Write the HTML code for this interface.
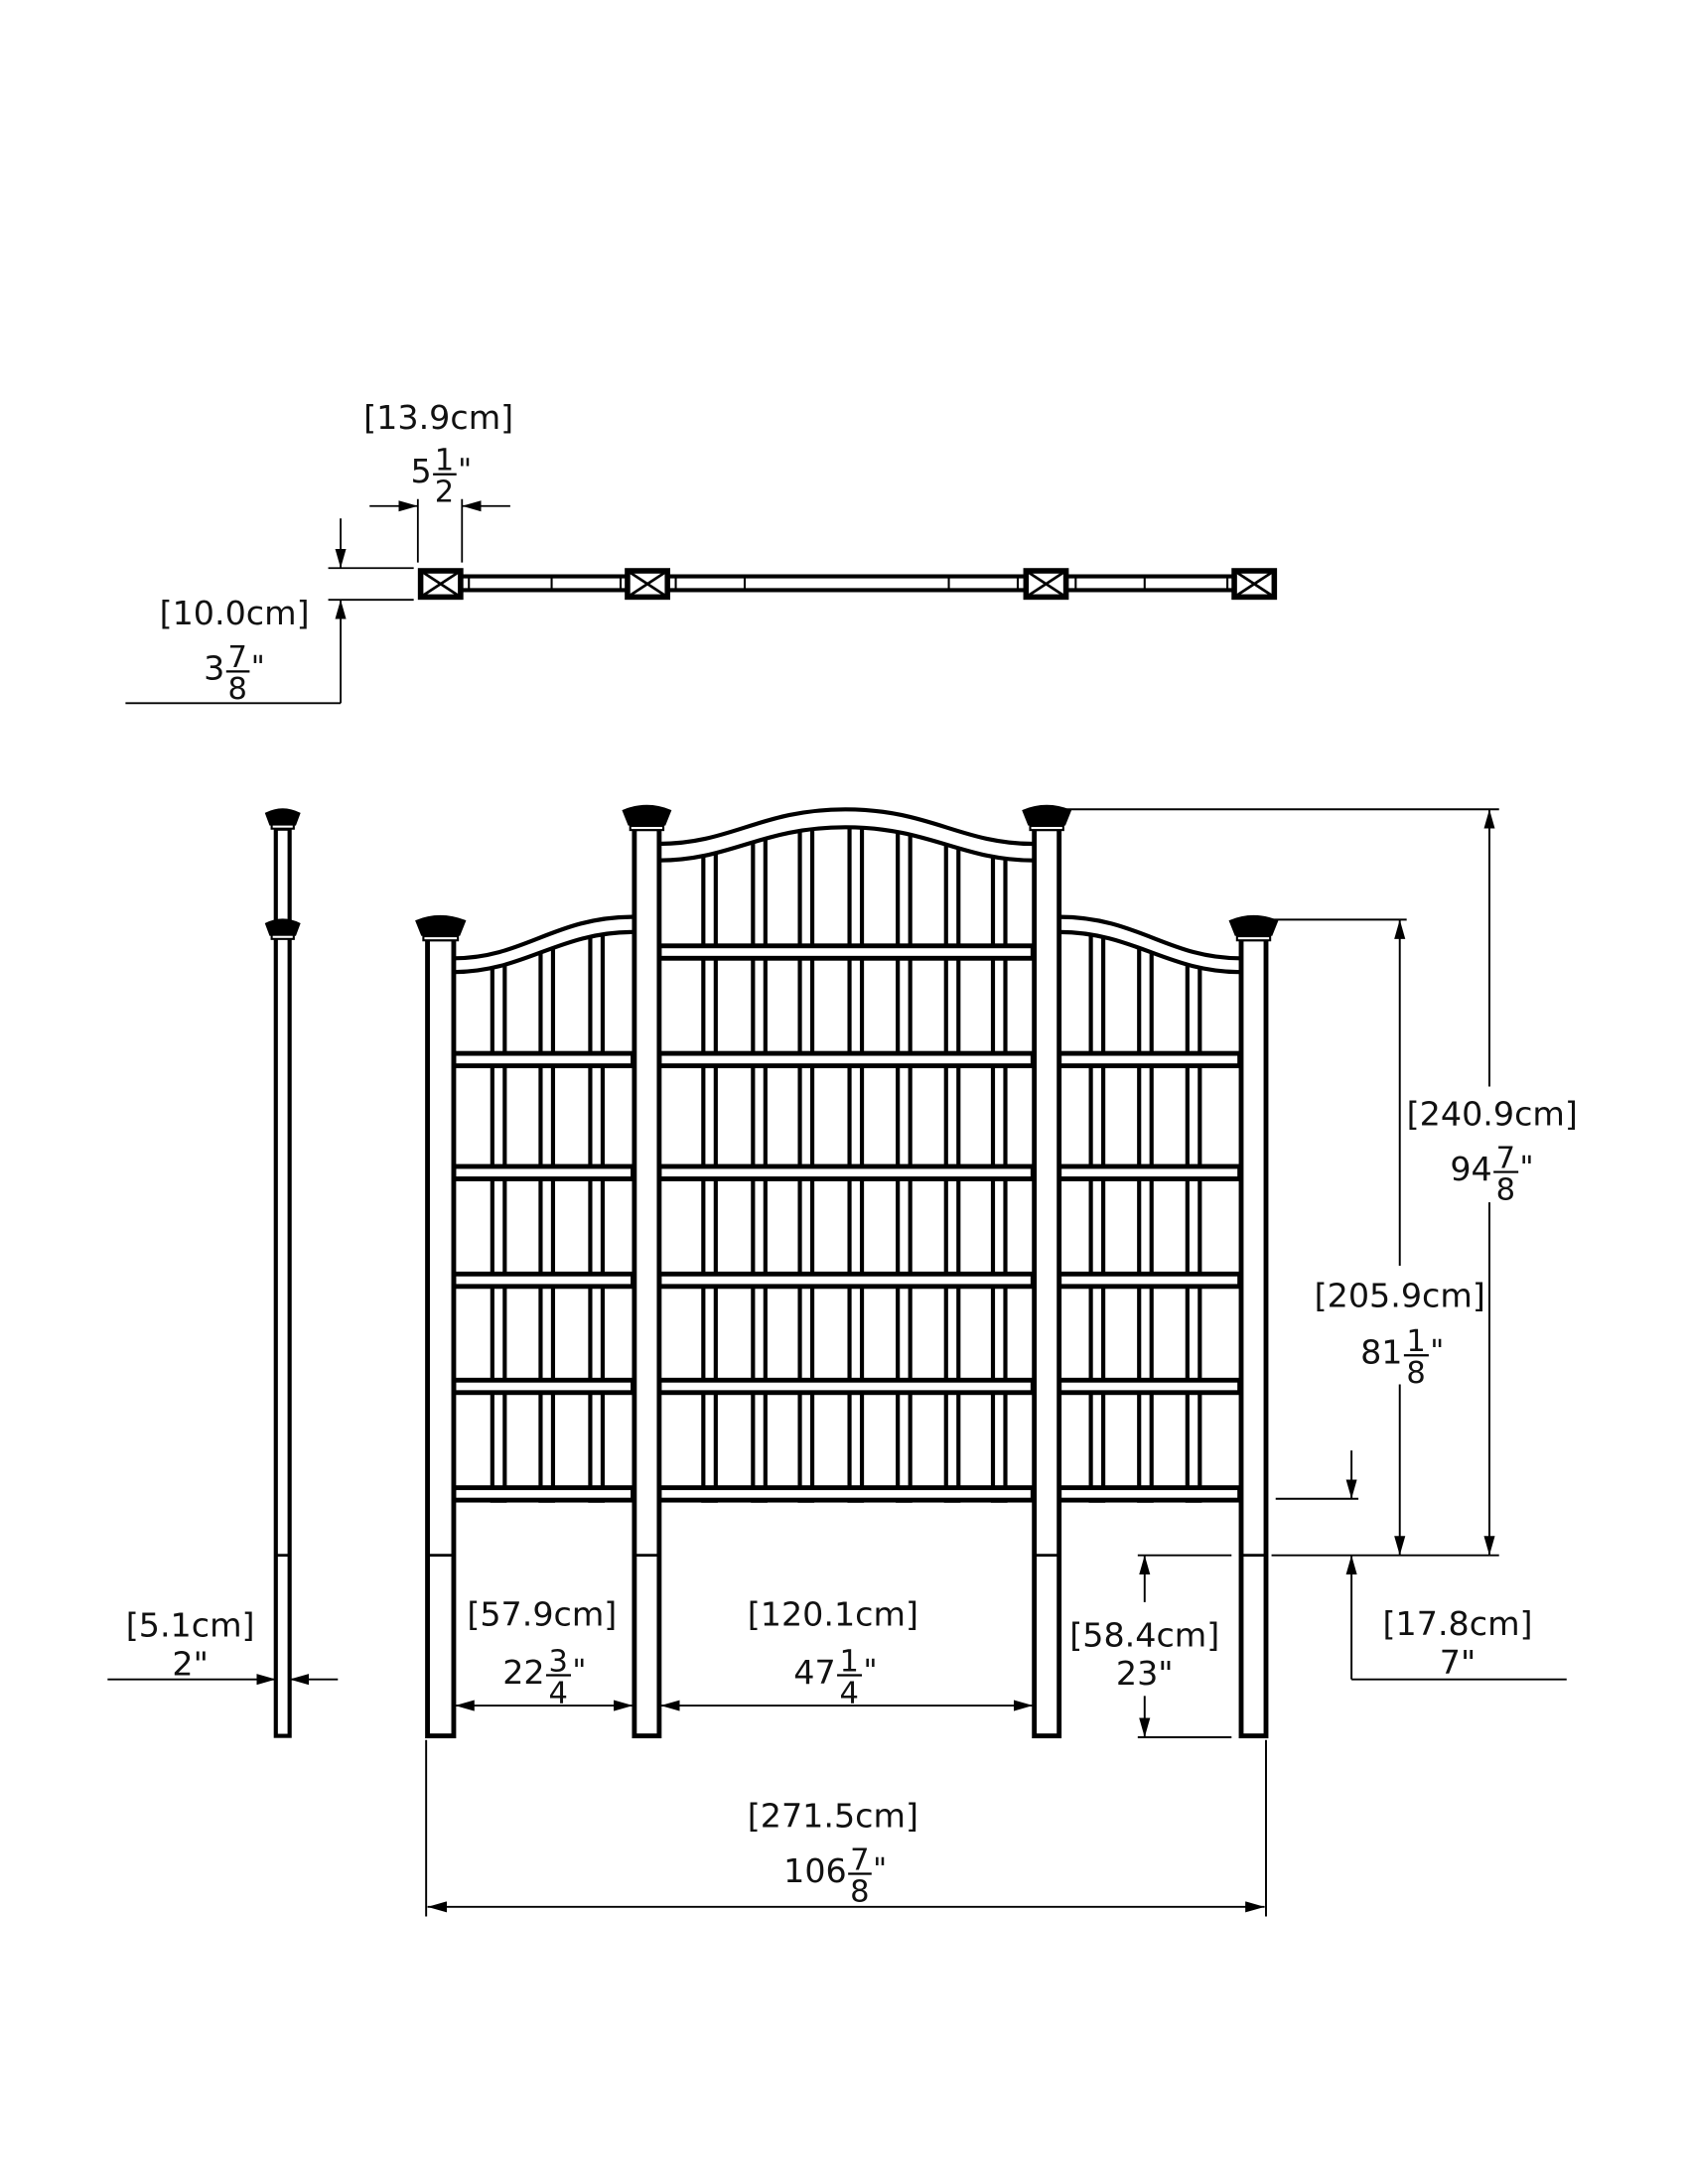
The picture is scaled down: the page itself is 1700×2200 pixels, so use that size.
<!DOCTYPE html>
<html><head><meta charset="utf-8"><style>
html,body{margin:0;padding:0;background:#fff;}
svg{display:block}
text{font-family:"DejaVu Sans","Liberation Sans",sans-serif;fill:#111;}
</style></head><body>
<svg width="1700" height="2200" viewBox="0 0 1224 1584" xmlns="http://www.w3.org/2000/svg">
<defs>
<marker id="ar" viewBox="0 0 14 8" refX="14" refY="4" markerWidth="14" markerHeight="8" markerUnits="userSpaceOnUse" orient="auto-start-reverse">
<path d="M0,0 L14,4 L0,8 Z" fill="#000"/></marker>
<clipPath id="cl"><path d="M329,705 C380,705 405,676 459,676 L459,1090 L329,1090 Z"/></clipPath>
<clipPath id="cc"><path d="M478,624 C530,624 552,600 613,600 C674,600 697,624 749,624 L749,1090 L478,1090 Z"/></clipPath>
<clipPath id="cr"><path d="M768,676 C822,676 847,705 899,705 L899,1090 L768,1090 Z"/></clipPath>
</defs>
<rect width="1224" height="1584" fill="#fff"/>

<!-- TOP VIEW -->
<g stroke="#000" fill="none">
<line x1="335" y1="418" x2="455" y2="418" stroke-width="3"/><line x1="335" y1="428" x2="455" y2="428" stroke-width="3"/>
<line x1="485" y1="418" x2="744" y2="418" stroke-width="3"/><line x1="485" y1="428" x2="744" y2="428" stroke-width="3"/>
<line x1="774" y1="418" x2="895" y2="418" stroke-width="3"/><line x1="774" y1="428" x2="895" y2="428" stroke-width="3"/>
<g stroke-width="1.5"><line x1="340" y1="418" x2="340" y2="428"/><line x1="400" y1="418" x2="400" y2="428"/><line x1="450" y1="418" x2="450" y2="428"/>
<line x1="490" y1="418" x2="490" y2="428"/><line x1="540" y1="418" x2="540" y2="428"/><line x1="688" y1="418" x2="688" y2="428"/><line x1="738" y1="418" x2="738" y2="428"/>
<line x1="780" y1="418" x2="780" y2="428"/><line x1="830" y1="418" x2="830" y2="428"/><line x1="890" y1="418" x2="890" y2="428"/></g>
<g stroke-width="4" fill="#fff">
<rect x="305" y="414" width="29" height="19"/><rect x="455" y="414" width="29" height="19"/>
<rect x="744" y="414" width="29" height="19"/><rect x="895" y="414" width="29" height="19"/></g>
<g stroke-width="2">
<path d="M305,414 L334,433 M334,414 L305,433"/><path d="M455,414 L484,433 M484,414 L455,433"/>
<path d="M744,414 L773,433 M773,414 L744,433"/><path d="M895,414 L924,433 M924,414 L895,433"/></g>
<g stroke-width="1.3">
<line x1="303" y1="362" x2="303" y2="408"/><line x1="335" y1="362" x2="335" y2="408"/>
<line x1="268" y1="367" x2="303" y2="367" marker-end="url(#ar)"/><line x1="370" y1="367" x2="335" y2="367" marker-end="url(#ar)"/>
<line x1="238" y1="412" x2="300" y2="412"/><line x1="238" y1="435" x2="300" y2="435"/>
<line x1="247" y1="376" x2="247" y2="412" marker-end="url(#ar)"/><line x1="247" y1="510" x2="247" y2="435" marker-end="url(#ar)"/>
<line x1="91" y1="510" x2="247" y2="510"/>
</g></g>
<text x="318" y="311" font-size="24" text-anchor="middle">[13.9cm]</text>
<text x="313" y="350" font-size="24" text-anchor="end">5</text>
<text x="322.2" y="341" font-size="22" text-anchor="middle">1</text><line x1="314" y1="344" x2="331" y2="344" stroke="#000" stroke-width="1.6"/>
<text x="322.2" y="364" font-size="22" text-anchor="middle">2</text><text x="332" y="348" font-size="22">"</text>
<text x="170" y="453" font-size="24" text-anchor="middle">[10.0cm]</text>
<text x="163" y="493" font-size="24" text-anchor="end">3</text>
<text x="172.2" y="484" font-size="22" text-anchor="middle">7</text><line x1="164" y1="487" x2="181" y2="487" stroke="#000" stroke-width="1.6"/>
<text x="172.2" y="507" font-size="22" text-anchor="middle">8</text><text x="182" y="491" font-size="22">"</text>

<!-- FRONT VIEW pickets -->
<g stroke="#000" stroke-width="3" fill="#fff">
<g clip-path="url(#cl)"><rect x="357" y="650" width="9" height="440"/><rect x="392" y="650" width="9" height="440"/><rect x="428" y="650" width="9" height="440"/></g>
<g clip-path="url(#cc)"><rect x="510" y="580" width="9" height="510"/><rect x="546" y="580" width="9" height="510"/><rect x="580" y="580" width="9" height="510"/><rect x="616" y="580" width="9" height="510"/><rect x="651" y="580" width="9" height="510"/><rect x="686" y="580" width="9" height="510"/><rect x="720" y="580" width="9" height="510"/></g>
<g clip-path="url(#cr)"><rect x="791" y="650" width="9" height="440"/><rect x="826" y="650" width="9" height="440"/><rect x="861" y="650" width="9" height="440"/></g>
<g stroke-width="3.5">
<rect x="478" y="686" width="271" height="9"/>
<rect x="329" y="764" width="130" height="9"/><rect x="478" y="764" width="271" height="9"/><rect x="768" y="764" width="131" height="9"/>
<rect x="329" y="846" width="130" height="9"/><rect x="478" y="846" width="271" height="9"/><rect x="768" y="846" width="131" height="9"/>
<rect x="329" y="924" width="130" height="9"/><rect x="478" y="924" width="271" height="9"/><rect x="768" y="924" width="131" height="9"/>
<rect x="329" y="1001" width="130" height="9"/><rect x="478" y="1001" width="271" height="9"/><rect x="768" y="1001" width="131" height="9"/>
<rect x="329" y="1079" width="130" height="9"/><rect x="478" y="1079" width="271" height="9"/><rect x="768" y="1079" width="131" height="9"/>
</g></g>
<g stroke="#000" stroke-width="3" fill="none">
<path d="M329,695 C380,695 402,665 459,665"/><path d="M329,705 C380,705 405,676 459,676"/>
<path d="M478,612 C530,612 552,587 613,587 C674,587 697,612 749,612"/>
<path d="M478,624 C530,624 552,600 613,600 C674,600 697,624 749,624"/>
<path d="M768,665 C825,665 847,695 899,695"/><path d="M768,676 C822,676 847,705 899,705"/>
</g>
<g stroke="#000" stroke-width="3.5" fill="#fff">
<rect x="310" y="681" width="19" height="578"/><rect x="460" y="601" width="18" height="658"/>
<rect x="750" y="601" width="18" height="658"/><rect x="900" y="681" width="18" height="578"/>
<rect x="200" y="601" width="10" height="658" stroke-width="3"/>
</g>
<g stroke="#000" stroke-width="2">
<line x1="310" y1="1128" x2="329" y2="1128"/><line x1="460" y1="1128" x2="478" y2="1128"/>
<line x1="750" y1="1128" x2="768" y2="1128"/><line x1="900" y1="1128" x2="918" y2="1128"/>
<line x1="200" y1="1128" x2="210" y2="1128"/>
</g>
<g fill="#000" stroke="#000" stroke-width="1.5">
<path d="M302,668 Q319,661 337,668 L333,678 L306,678 Z"/><rect x="307" y="679" width="25" height="3" fill="#fff"/>
<path d="M452,588 Q469,581 486,588 L482,598 L456,598 Z"/><rect x="457" y="599" width="24" height="3" fill="#fff"/>
<path d="M742,588 Q759,581 776,588 L772,598 L746,598 Z"/><rect x="747" y="599" width="24" height="3" fill="#fff"/>
<path d="M892,668 Q909,661 926,668 L922,678 L896,678 Z"/><rect x="897" y="679" width="24" height="3" fill="#fff"/>
<path d="M193,590 Q205,584 217,590 L214,598 L196,598 Z"/><rect x="197" y="598" width="16" height="3" fill="#fff"/>
<path d="M193,670 Q205,664 217,670 L214,678 L196,678 Z"/><rect x="197" y="678" width="16" height="3" fill="#fff"/>
</g>

<g stroke="#000" stroke-width="1.4" fill="none">
<line x1="772" y1="587" x2="1087" y2="587"/>
<line x1="1080" y1="788" x2="1080" y2="587" marker-end="url(#ar)"/><line x1="1080" y1="872" x2="1080" y2="1128" marker-end="url(#ar)"/>
<line x1="922" y1="667" x2="1020" y2="667"/>
<line x1="1015" y1="918" x2="1015" y2="667" marker-end="url(#ar)"/><line x1="1015" y1="1004" x2="1015" y2="1128" marker-end="url(#ar)"/>
<line x1="922" y1="1128" x2="1087" y2="1128"/>
<line x1="925" y1="1087" x2="985" y2="1087"/>
<line x1="980" y1="1052" x2="980" y2="1087" marker-end="url(#ar)"/>
<line x1="980" y1="1218" x2="980" y2="1128" marker-end="url(#ar)"/><line x1="980" y1="1218" x2="1136" y2="1218"/>
<line x1="825" y1="1128" x2="893" y2="1128"/><line x1="825" y1="1260" x2="893" y2="1260"/>
<line x1="830" y1="1162" x2="830" y2="1128" marker-end="url(#ar)"/><line x1="830" y1="1230" x2="830" y2="1260" marker-end="url(#ar)"/>
<line x1="330" y1="1237" x2="459" y2="1237" marker-start="url(#ar)" marker-end="url(#ar)"/>
<line x1="479" y1="1237" x2="749" y2="1237" marker-start="url(#ar)" marker-end="url(#ar)"/>
<line x1="309" y1="1262" x2="309" y2="1390"/><line x1="918" y1="1262" x2="918" y2="1390"/>
<line x1="310" y1="1383" x2="917" y2="1383" marker-start="url(#ar)" marker-end="url(#ar)"/>
<line x1="78" y1="1218" x2="200" y2="1218" marker-end="url(#ar)"/><line x1="245" y1="1218" x2="210" y2="1218" marker-end="url(#ar)"/>
</g>
<g font-size="24" text-anchor="middle">
<text x="1082" y="816">[240.9cm]</text>
<text x="1015" y="948">[205.9cm]</text>
<text x="1057" y="1186">[17.8cm]</text><text x="1057" y="1214">7"</text>
<text x="830" y="1194">[58.4cm]</text><text x="830" y="1222">23"</text>
<text x="393" y="1179">[57.9cm]</text>
<text x="604" y="1179">[120.1cm]</text>
<text x="604" y="1325">[271.5cm]</text>
<text x="138" y="1187">[5.1cm]</text><text x="138" y="1215">2"</text>
</g>
<g font-size="24" text-anchor="end">
<text x="1082" y="856">94</text><text x="1017" y="989">81</text>
<text x="395" y="1221">22</text><text x="606" y="1221">47</text><text x="614" y="1365">106</text>
</g>
<g font-size="22" text-anchor="middle">
<text x="1091.8" y="847">7</text><text x="1091.8" y="870">8</text>
<text x="1026.8" y="980">1</text><text x="1026.8" y="1003">8</text>
<text x="404.8" y="1212">3</text><text x="404.8" y="1235">4</text>
<text x="615.8" y="1212">1</text><text x="615.8" y="1235">4</text>
<text x="623.4" y="1356">7</text><text x="623.4" y="1379">8</text>
</g>
<g font-size="22">
<text x="1102" y="854">"</text><text x="1037" y="987">"</text><text x="415" y="1219">"</text><text x="626" y="1219">"</text><text x="633" y="1363">"</text>
</g>
<g stroke="#000" stroke-width="1.6">
<line x1="1083" y1="850" x2="1101" y2="850"/><line x1="1018" y1="983" x2="1036" y2="983"/>
<line x1="396" y1="1215" x2="414" y2="1215"/><line x1="607" y1="1215" x2="625" y2="1215"/><line x1="615" y1="1359" x2="632" y2="1359"/>
</g>
</svg>
</body></html>
